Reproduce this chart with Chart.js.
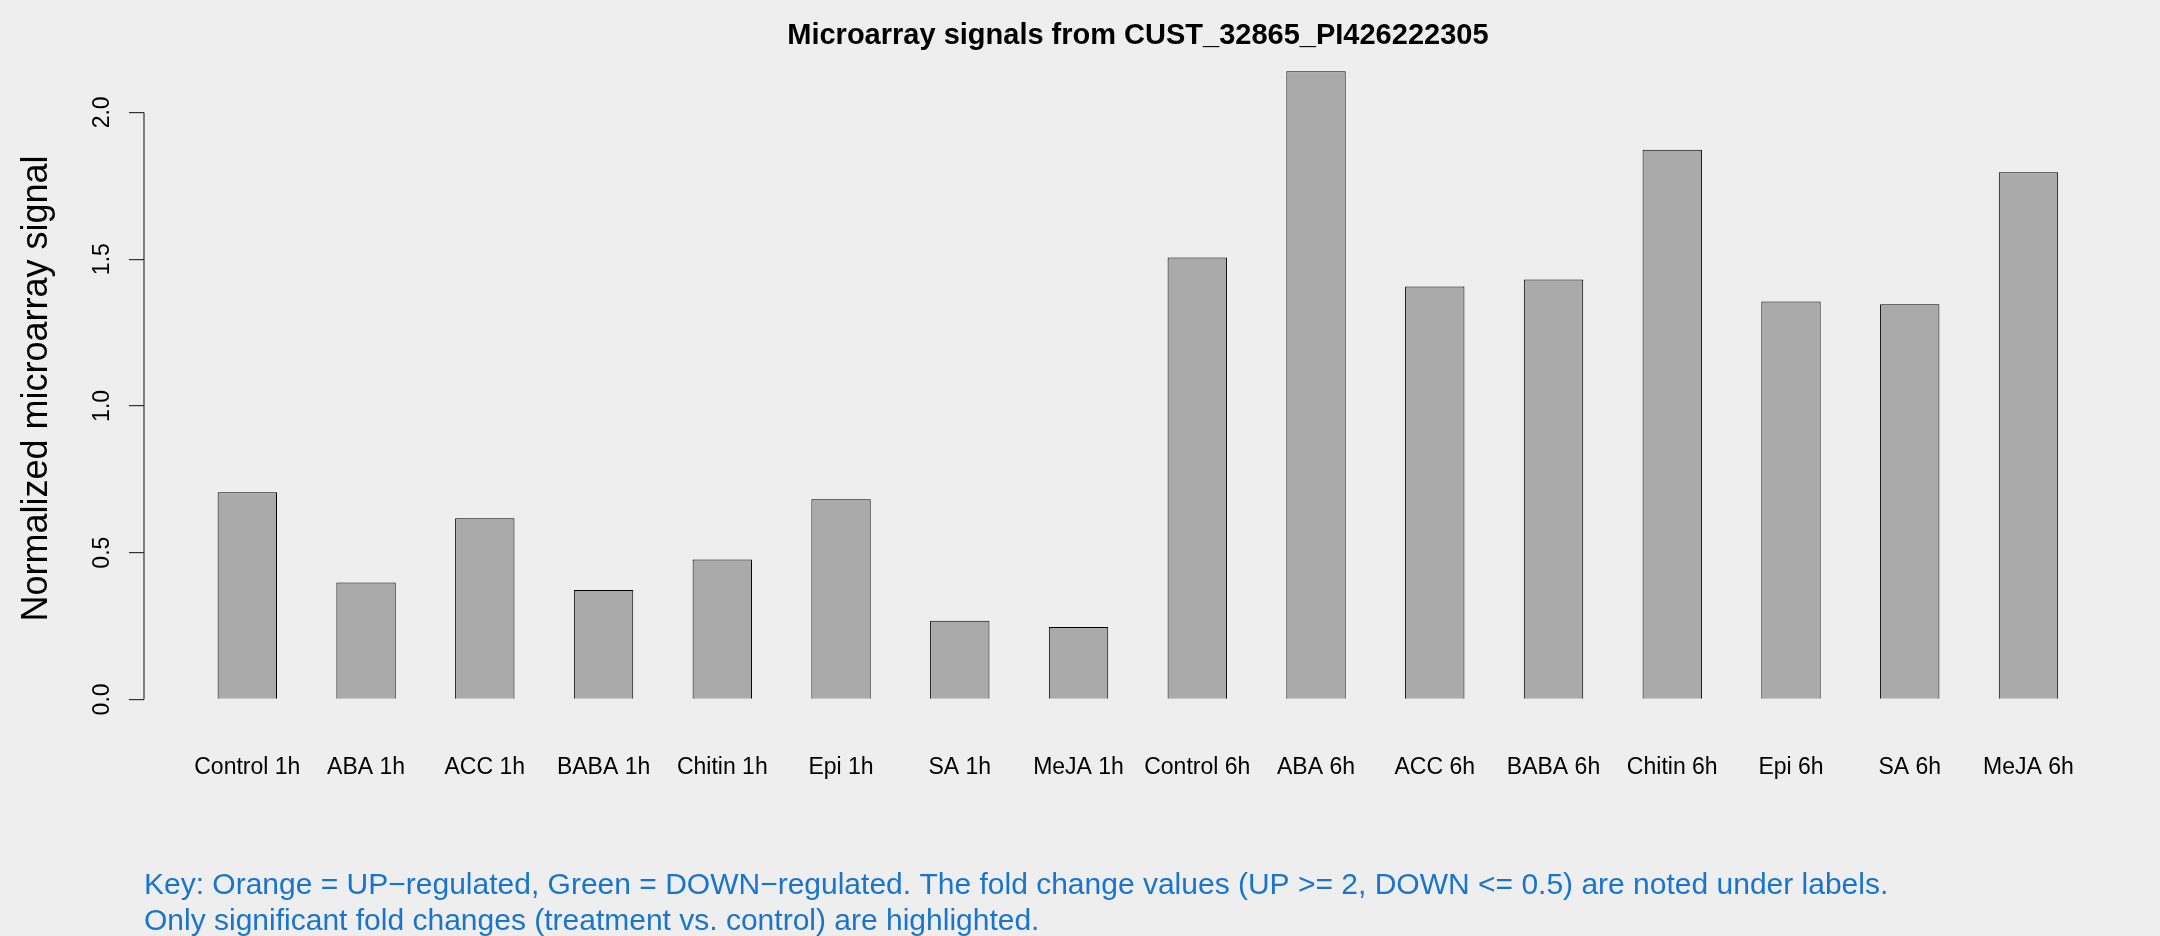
<!DOCTYPE html>
<html>
<head>
<meta charset="utf-8">
<script src="https://cdn.jsdelivr.net/npm/chart.js@4"></script>
<style>
    html, body { margin: 0; padding: 0; background: #eeeeee; }
    canvas { display: block; }
</style>
</head>
<body>
<canvas id="chartMicroarray" width="2160" height="936"></canvas>
<script>
/* microarray barplot */

const categories = ['Control 1h', 'ABA 1h', 'ACC 1h', 'BABA 1h', 'Chitin 1h', 'Epi 1h', 'SA 1h', 'MeJA 1h',
    'Control 6h', 'ABA 6h', 'ACC 6h', 'BABA 6h', 'Chitin 6h', 'Epi 6h', 'SA 6h', 'MeJA 6h'];
const signalValues = [0.706, 0.398, 0.617, 0.373, 0.477, 0.682, 0.268, 0.247,
    1.506, 2.140, 1.407, 1.431, 1.873, 1.356, 1.346, 1.796];
const yTickValues = [0, 0.5, 1, 1.5, 2];
const yTickLabels = ['0.0', '0.5', '1.0', '1.5', '2.0'];
const chartTitle = 'Microarray signals from CUST_32865_PI426222305';
const yAxisTitle = 'Normalized microarray signal';
const footnoteLines = [
    'Key: Orange = UP\u2212regulated, Green = DOWN\u2212regulated. The fold change values (UP >= 2, DOWN <= 0.5) are noted under labels.',
    'Only significant fold changes (treatment vs. control) are highlighted.'
];

const FONT = "'Liberation Sans', Arial, Helvetica, sans-serif";

// axis line, rotated y labels and footnote, drawn the way R does it
const rStylePlugin = {
    id: 'rStyle',
    beforeDraw(chart) {
        const ctx = chart.ctx;
        ctx.save();
        ctx.fillStyle = '#eeeeee';
        ctx.fillRect(0, 0, chart.width, chart.height);
        ctx.restore();
    },
    afterDraw(chart) {
        const ctx = chart.ctx;
        const y = chart.scales.y;
        const axisX = chart.chartArea.left;

        ctx.save();
        ctx.strokeStyle = '#333333';
        ctx.lineWidth = 1.2;
        ctx.beginPath();
        ctx.moveTo(axisX, y.getPixelForValue(yTickValues[0]));
        ctx.lineTo(axisX, y.getPixelForValue(yTickValues[yTickValues.length - 1]));
        ctx.stroke();

        ctx.fillStyle = '#000000';
        ctx.font = '23px ' + FONT;
        ctx.textAlign = 'center';
        ctx.textBaseline = 'alphabetic';
        yTickValues.forEach((v, i) => {
            ctx.save();
            ctx.translate(108.5, y.getPixelForValue(v));
            ctx.rotate(-Math.PI / 2);
            ctx.fillText(yTickLabels[i], 0, 0);
            ctx.restore();
        });

        ctx.fillStyle = '#1874cd';
        ctx.font = '30px ' + FONT;
        ctx.textAlign = 'left';
        ctx.fillText(footnoteLines[0], 144, 894);
        ctx.fillText(footnoteLines[1], 144, 929.5);
        ctx.restore();
    }
};

const ctx = document.getElementById('chartMicroarray').getContext('2d');

const microarrayChart = new Chart(ctx, {
    type: 'bar',
    data: {
        datasets: [{
            label: 'Signal',
            data: signalValues.map((v, i) => ({ x: i, y: v })),
            backgroundColor: '#aaaaaa',
            borderColor: '#000000',
            borderWidth: 1,
            barPercentage: 0.5,
            categoryPercentage: 1,
            clip: false
        }]
    },
    options: {
        responsive: false,
        animation: false,
        devicePixelRatio: 1,
        layout: { padding: { left: 0, right: 28.2, top: 0, bottom: 0 } },
        plugins: {
            legend: { display: false },
            tooltip: { enabled: false },
            title: {
                display: true,
                text: chartTitle,
                fullSize: false,
                color: '#000000',
                font: { family: FONT, size: 29, weight: 'bold' },
                padding: { top: 18.6, bottom: -7.5 }
            }
        },
        scales: {
            x: {
                type: 'linear',
                min: -0.87,
                max: 15.87,
                offset: false,
                grid: { display: false, offset: false },
                border: { display: false },
                afterBuildTicks: scale => {
                    scale.ticks = categories.map((c, i) => ({ value: i }));
                },
                afterFit: scale => { scale.height = 936 - 731.1; },
                ticks: {
                    autoSkip: false,
                    maxRotation: 0,
                    minRotation: 0,
                    padding: 15,
                    color: '#000000',
                    font: { family: FONT, size: 23 },
                    callback: value => categories[value]
                }
            },
            y: {
                min: -0.1079,
                max: 2.2265,
                afterBuildTicks: scale => {
                    scale.ticks = yTickValues.map(v => ({ value: v }));
                },
                afterFit: scale => { scale.width = 144; },
                border: { display: false },
                grid: {
                    drawOnChartArea: false,
                    drawTicks: true,
                    tickLength: 15,
                    color: '#333333',
                    lineWidth: 1.2
                },
                ticks: { display: false },
                title: {
                    display: true,
                    text: yAxisTitle,
                    color: '#000000',
                    font: { family: FONT, size: 36 },
                    padding: { top: 15, bottom: 0 }
                }
            }
        }
    },
    plugins: [rStylePlugin]
});
</script>
</body>
</html>
